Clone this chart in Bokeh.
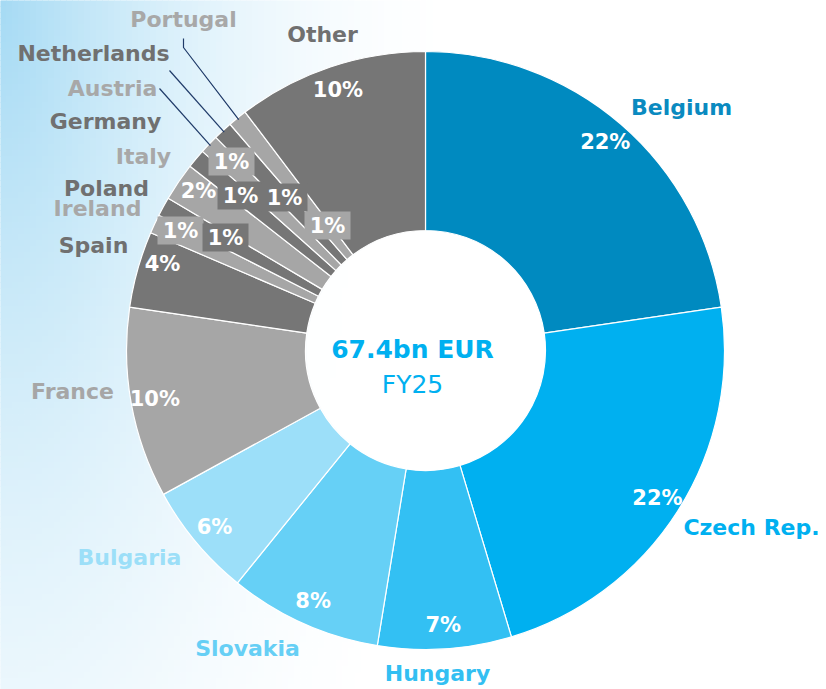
import numpy as np
from bokeh.plotting import figure
from bokeh.models import Range1d, ColumnDataSource
from bokeh.core.properties import value
from bokeh.embed import file_html
from bokeh.resources import INLINE

W, H = 826, 689

# ---- data -------------------------------------------------------------
countries = ["Belgium", "Czech Rep.", "Hungary", "Slovakia", "Bulgaria", "France",
             "Spain", "Ireland", "Poland", "Italy", "Germany", "Austria",
             "Netherlands", "Portugal", "Other"]
shares = [22, 22, 7, 8, 6, 10, 4, 1, 1, 2, 1, 1, 1, 1, 10]
total_label = "67.4bn EUR"
period_label = "FY25"

# ---- styling -----------------------------------------------------------
DARK, LIGHT = "#767676", "#A6A6A6"
slice_colors = ["#008AC0", "#00B0F0", "#33C0F3", "#66D0F6", "#9CDFF9", LIGHT,
                DARK, LIGHT, DARK, LIGHT, DARK, LIGHT, DARK, LIGHT, DARK]
name_colors = ["#0A8AC0", "#00B0F0", "#33BFF2", "#66CFF5", "#9CDFF8", "#A6A6A6",
               "#707070", "#A8A8A8", "#707070", "#A8A8A8", "#707070", "#A8A8A8",
               "#707070", "#A8A8A8", "#707070"]

FONT = value("DejaVu Sans")
CX, CY = 425, 350          # ring centre (screen pixels, y down)
R_OUT, R_IN = 299, 120
R_LABEL = 275

# name label centres (screen pixels)
name_pos = {
    "Belgium": (681, 107), "Czech Rep.": (751, 527), "Hungary": (437, 673),
    "Slovakia": (247, 648), "Bulgaria": (129, 557), "France": (72, 391),
    "Spain": (93, 245), "Ireland": (97, 208), "Poland": (106, 188),
    "Italy": (143, 156), "Germany": (105, 121), "Austria": (112, 88),
    "Netherlands": (93, 53), "Portugal": (183, 19), "Other": (322, 34),
}
# percentage labels of the narrow slices are placed by hand (screen pixels)
small_pct_pos = {
    "Spain": (162, 263), "Ireland": (180, 230), "Poland": (225, 237),
    "Italy": (198, 190), "Germany": (240, 195), "Austria": (231, 161),
    "Netherlands": (284, 197), "Portugal": (327, 225),
}
boxed = {"Ireland", "Poland", "Germany", "Austria", "Netherlands", "Portugal"}
# leader lines: label-side points (screen pixels); the other end sits on the slice
leader_start = {
    "Austria": [(159, 88)],
    "Netherlands": [(169, 70)],
    "Portugal": [(183, 38), (183, 47)],
}


def sy(y):
    return H - y


p = figure(width=W, height=H, x_range=Range1d(0, W), y_range=Range1d(0, H),
           output_backend="svg", toolbar_location=None,
           x_axis_type=None, y_axis_type=None, min_border=0)
p.grid.visible = False
p.outline_line_color = None
p.background_fill_color = "white"
p.border_fill_color = "white"

# soft sky-blue wash from the top-left corner, drawn as small tiles
CELL = 6
x0s, x1s, y0s, y1s, tile_cols = [], [], [], [], []
for sx in range(0, 500, CELL):
    for sy_ in range(0, H, CELL):
        cx_, cy_ = sx + CELL / 2, sy_ + CELL / 2
        dd = np.hypot(cx_ / 480.0, cy_ / 1300.0)
        tt = max(0.0, 1 - dd) ** 2
        if tt * 90 < 0.8:
            continue
        r = int(round(255 - tt * (255 - 165)))
        g = int(round(255 - tt * (255 - 218)))
        b = int(round(255 - tt * (255 - 244)))
        x0s.append(sx)
        x1s.append(sx + CELL)
        y0s.append(sy(sy_ + CELL))
        y1s.append(sy(sy_))
        tile_cols.append(f"#{r:02x}{g:02x}{b:02x}")
p.quad(left=x0s, right=x1s, bottom=y0s, top=y1s, fill_color=tile_cols,
       line_color=tile_cols, line_width=1)

# ring geometry from the shares
vals = np.array(shares, dtype=float)
frac = vals / vals.sum()
cum_after = np.cumsum(frac)
cum_before = cum_after - frac
start = np.pi / 2 - 2 * np.pi * cum_before
end = np.pi / 2 - 2 * np.pi * cum_after
mid = np.pi / 2 - 2 * np.pi * (cum_before + frac / 2)

src = ColumnDataSource(dict(start=start, end=end, color=slice_colors,
                            x=[CX] * len(shares), y=[sy(CY)] * len(shares)))
p.annular_wedge(x="x", y="y", inner_radius=R_IN, outer_radius=R_OUT,
                start_angle="start", end_angle="end", direction="clock",
                fill_color="color", line_color="white", line_width=1.2, source=src)
p.circle(x=[CX], y=[sy(CY)], radius=R_IN - 1, fill_color="white",
         fill_alpha=0.85, line_color=None)

# leader lines
lx, ly = [], []
for name, pts in leader_start.items():
    i = countries.index(name)
    ex = CX + (R_OUT - 2) * np.cos(mid[i])
    ey = sy(CY) + (R_OUT - 2) * np.sin(mid[i])
    lx.append([q[0] for q in pts] + [ex])
    ly.append([sy(q[1]) for q in pts] + [ey])
p.multi_line(xs=lx, ys=ly, line_color="#1F3A68", line_width=1.2)

# percentage labels
px, py, ptxt = [], [], []
bx, by, bcol = [], [], []
for i, name in enumerate(countries):
    if name in small_pct_pos:
        x, y = small_pct_pos[name]
        x, y = x, sy(y)
    else:
        x = CX + R_LABEL * np.cos(mid[i])
        y = sy(CY) + R_LABEL * np.sin(mid[i])
    px.append(x)
    py.append(y)
    ptxt.append(f"{shares[i]}%")
    if name in boxed:
        bx.append(x)
        by.append(y)
        bcol.append(slice_colors[i])
p.rect(x=bx, y=by, width=46, height=28, fill_color=bcol, line_color=None)
p.text(x=px, y=py, text=ptxt, text_color="white", text_font=FONT,
       text_font_style="bold", text_font_size="21px",
       text_align="center", text_baseline="middle")

# country names
nx = [name_pos[c][0] for c in countries]
ny = [sy(name_pos[c][1]) for c in countries]
p.text(x=nx, y=ny, text=countries, text_color=name_colors, text_font=FONT,
       text_font_style="bold", text_font_size="22px",
       text_align="center", text_baseline="middle")

# centre caption
p.text(x=[412], y=[sy(349)], text=[total_label], text_color="#00B0F0",
       text_font=FONT, text_font_style="bold", text_font_size="25px",
       text_align="center", text_baseline="middle")
p.text(x=[412], y=[sy(384)], text=[period_label], text_color="#00B0F0",
       text_font=FONT, text_font_size="25px",
       text_align="center", text_baseline="middle")

open("out.html", "w").write(file_html(p, INLINE))
